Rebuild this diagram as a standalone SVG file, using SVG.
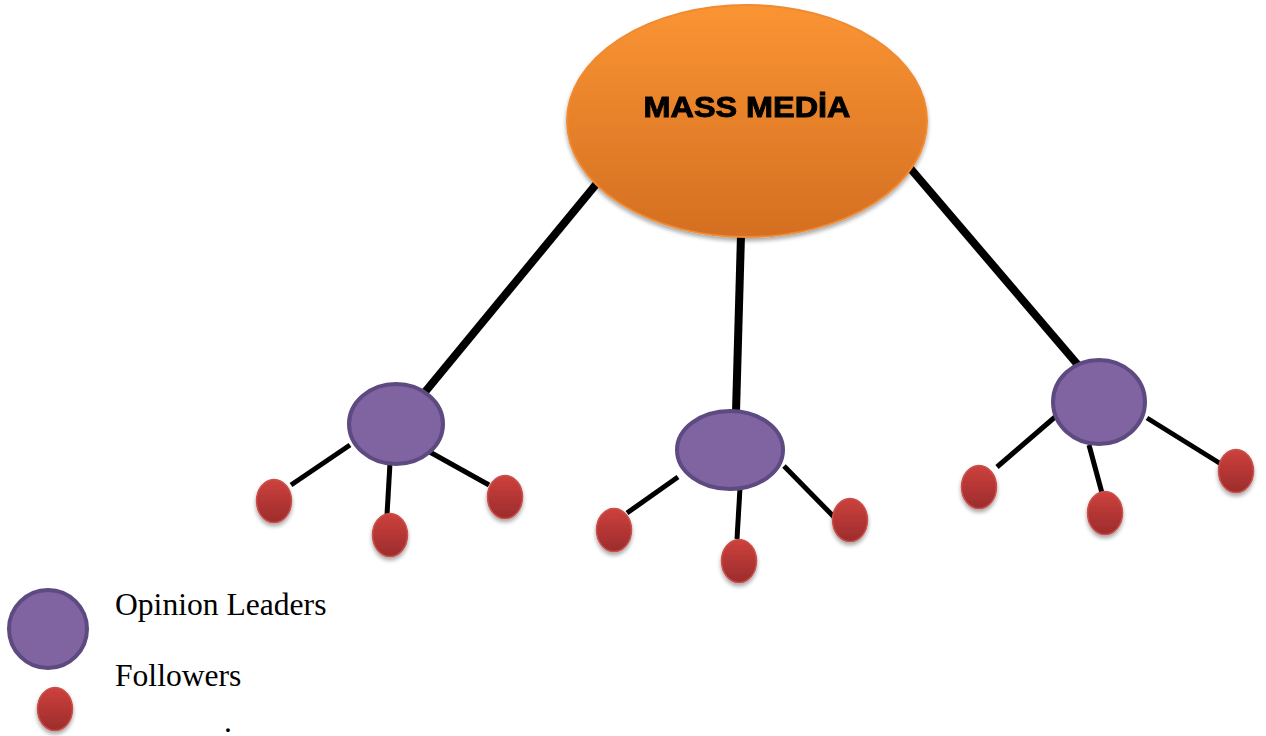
<svg xmlns="http://www.w3.org/2000/svg" width="1266" height="736" viewBox="0 0 1266 736">
  <defs>
    <linearGradient id="gOrange" x1="0" y1="0" x2="0" y2="1">
      <stop offset="0" stop-color="#fa9433"/>
      <stop offset="1" stop-color="#d46f22"/>
    </linearGradient>
    <linearGradient id="gRed" x1="0" y1="0" x2="0" y2="1">
      <stop offset="0" stop-color="#cd413d"/>
      <stop offset="1" stop-color="#9c2c2c"/>
    </linearGradient>
    <filter id="shadow" x="-30%" y="-30%" width="160%" height="170%">
      <feGaussianBlur in="SourceAlpha" stdDeviation="2"/>
      <feOffset dx="0" dy="3" result="b"/>
      <feComponentTransfer><feFuncA type="linear" slope="0.35"/></feComponentTransfer>
      <feMerge><feMergeNode/><feMergeNode in="SourceGraphic"/></feMerge>
    </filter>
  </defs>
  <style>
    .media { fill: url(#gOrange); stroke: #f08a30; stroke-width: 2; }
    .leader { fill: #8064a2; stroke: #5c4a80; stroke-width: 4; }
    .follower { fill: url(#gRed); stroke: #c9504c; stroke-width: 1.5; }
    .trunk { stroke: #000; stroke-width: 8; fill: none; }
    .branch { stroke: #000; stroke-width: 5; fill: none; }
    .title { font-family: "Liberation Sans", Arial, sans-serif; font-weight: bold; font-size: 29px; fill: #000; stroke: #000; stroke-width: 0.9; }
    .legend { font-family: "Liberation Serif", "Times New Roman", serif; font-size: 31.6px; fill: #000; }
  </style>

  <g id="connectors">
    <line class="trunk" x1="598" y1="182" x2="425" y2="392"/>
    <line class="trunk" x1="741" y1="235" x2="736" y2="412"/>
    <line class="trunk" x1="910" y1="168" x2="1078" y2="365"/>

    <line class="branch" x1="350" y1="445" x2="291" y2="485"/>
    <line class="branch" x1="390" y1="463" x2="387" y2="515"/>
    <line class="branch" x1="428" y1="451" x2="489" y2="485"/>

    <line class="branch" x1="678" y1="477" x2="627" y2="513"/>
    <line class="branch" x1="740" y1="488" x2="737" y2="539"/>
    <line class="branch" x1="784" y1="466" x2="834" y2="517"/>

    <line class="branch" x1="1055" y1="417" x2="997" y2="467"/>
    <line class="branch" x1="1089" y1="445" x2="1102" y2="493"/>
    <line class="branch" x1="1147" y1="418" x2="1221" y2="464"/>
  </g>

  <g id="mass-media" filter="url(#shadow)">
    <ellipse class="media" cx="747" cy="121" rx="180" ry="116"/>
    <text class="title" x="747" y="117" text-anchor="middle" textLength="207" lengthAdjust="spacingAndGlyphs">MASS MEDİA</text>
  </g>

  <g id="leader-left"><ellipse class="leader" cx="396" cy="424" rx="47" ry="40"/></g>
  <g id="leader-middle"><ellipse class="leader" cx="730" cy="450" rx="53" ry="39"/></g>
  <g id="leader-right"><ellipse class="leader" cx="1099" cy="402" rx="46" ry="42"/></g>

  <g id="follower-l1" filter="url(#shadow)"><ellipse class="follower" cx="274" cy="501" rx="17.5" ry="21.5"/></g>
  <g id="follower-l2" filter="url(#shadow)"><ellipse class="follower" cx="390" cy="535" rx="17.5" ry="21.5"/></g>
  <g id="follower-l3" filter="url(#shadow)"><ellipse class="follower" cx="505" cy="497" rx="17.5" ry="21.5"/></g>

  <g id="follower-m1" filter="url(#shadow)"><ellipse class="follower" cx="614" cy="530" rx="17.5" ry="21.5"/></g>
  <g id="follower-m2" filter="url(#shadow)"><ellipse class="follower" cx="739" cy="561" rx="17.5" ry="21.5"/></g>
  <g id="follower-m3" filter="url(#shadow)"><ellipse class="follower" cx="850" cy="520" rx="17.5" ry="21.5"/></g>

  <g id="follower-r1" filter="url(#shadow)"><ellipse class="follower" cx="979" cy="487" rx="17.5" ry="21.5"/></g>
  <g id="follower-r2" filter="url(#shadow)"><ellipse class="follower" cx="1105" cy="513" rx="17.5" ry="21.5"/></g>
  <g id="follower-r3" filter="url(#shadow)"><ellipse class="follower" cx="1236" cy="471" rx="17.5" ry="21.5"/></g>

  <g id="legend">
    <circle class="leader" cx="48" cy="629" r="39"/>
    <ellipse class="follower" cx="55" cy="709" rx="17.5" ry="21.5" filter="url(#shadow)"/>
    <text class="legend" x="115" y="615">Opinion Leaders</text>
    <text class="legend" x="115" y="686">Followers</text>
    <text class="legend" x="224" y="732">.</text>
  </g>
</svg>
